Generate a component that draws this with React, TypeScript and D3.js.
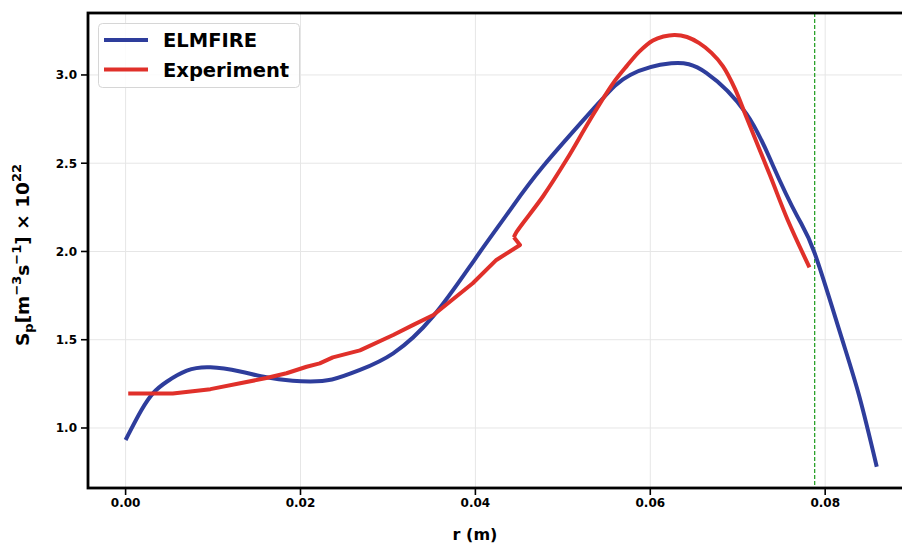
import React from "react";
import * as d3 from "d3";

const elmR = [0, 0.0018, 0.0032, 0.0047, 0.007, 0.0097, 0.0131, 0.0161, 0.0191, 0.0211, 0.0236, 0.0268, 0.0306, 0.0352, 0.04, 0.0439, 0.0477, 0.0539, 0.0577, 0.0624, 0.0664, 0.071, 0.074, 0.0768, 0.0788, 0.0817, 0.0839, 0.0859];
const elmV = [0.932, 1.10, 1.20, 1.262, 1.325, 1.344, 1.32, 1.287, 1.268, 1.264, 1.275, 1.329, 1.423, 1.635, 1.96, 2.23, 2.48, 2.83, 3.0, 3.066, 3.012, 2.78, 2.49, 2.2, 1.99, 1.54, 1.18, 0.78];

const expR = [0.0003, 0.0054, 0.0097, 0.0131, 0.0161, 0.0184, 0.0207, 0.0222, 0.0237, 0.0268, 0.0306, 0.0329, 0.0352, 0.0397, 0.0424, 0.0451, 0.0444, 0.0447, 0.0477, 0.0504, 0.0531, 0.0557, 0.0573, 0.0588, 0.0603, 0.0615, 0.0628, 0.0642, 0.0656, 0.067, 0.0683, 0.0697, 0.071, 0.0737, 0.0757, 0.0782];
const expV = [1.196, 1.196, 1.22, 1.253, 1.283, 1.31, 1.347, 1.366, 1.40, 1.44, 1.527, 1.584, 1.64, 1.82, 1.952, 2.037, 2.08, 2.11, 2.31, 2.518, 2.745, 2.95, 3.05, 3.135, 3.195, 3.218, 3.227, 3.215, 3.18, 3.125, 3.05, 2.92, 2.76, 2.43, 2.18, 1.91];
const expKinkIndex = 16;

const xTicks = [0, 0.02, 0.04, 0.06, 0.08];
const yTicks = [1.0, 1.5, 2.0, 2.5, 3.0];
const vline = 0.0788;

const W = 902;
const H = 544;
const left = 88, right = 917, top = 13, bottom = 488;
const FONT = "'DejaVu Sans', sans-serif";

export default function App() {
  const x = d3.scaleLinear().domain([-0.0043, 0.0905]).range([left, right]);
  const y = d3.scaleLinear().domain([0.66, 3.351]).range([bottom, top]);

  const elm = elmR.map((r, i) => [r, elmV[i]] as [number, number]);
  const exp = expR.map((r, i) => [r, expV[i]] as [number, number]);

  const blue = d3.line<[number, number]>().x((d) => x(d[0])).y((d) => y(d[1])).curve(d3.curveNatural)(elm) || "";
  const redA = d3.line<[number, number]>().x((d) => x(d[0])).y((d) => y(d[1])).curve(d3.curveLinear)(exp.slice(0, expKinkIndex + 1)) || "";
  const redB = d3.line<[number, number]>().x((d) => x(d[0])).y((d) => y(d[1])).curve(d3.curveCatmullRom.alpha(0.5))(exp.slice(expKinkIndex)) || "";

  const blueC = "#2E3D9C";
  const redC = "#E0302A";

  return (
    <div style={{ position: "absolute", left: 0, top: 0, width: W, height: H, overflow: "hidden" }}>
      <svg width={W} height={H} style={{ display: "block" }} fontFamily={FONT}>
        <rect x={0} y={0} width={W} height={H} fill="#fff" />
        <defs>
          <clipPath id="plot">
            <rect x={left} y={top} width={right - left} height={bottom - top} />
          </clipPath>
        </defs>
        {xTicks.map((t) => (
          <line key={"gx" + t} x1={x(t)} x2={x(t)} y1={top} y2={bottom} stroke="#e6e6e6" strokeWidth={1} />
        ))}
        {yTicks.map((t) => (
          <line key={"gy" + t} x1={left} x2={right} y1={y(t)} y2={y(t)} stroke="#e6e6e6" strokeWidth={1} />
        ))}
        <g clipPath="url(#plot)">
          <line x1={x(vline)} x2={x(vline)} y1={top} y2={bottom} stroke="#1a9a1a" strokeWidth={1.2} strokeDasharray="4,2" />
          <path d={blue} fill="none" stroke={blueC} strokeWidth={4} strokeLinejoin="round" />
          <path d={redA} fill="none" stroke={redC} strokeWidth={4} strokeLinejoin="round" strokeLinecap="butt" />
          <path d={redB} fill="none" stroke={redC} strokeWidth={4} strokeLinejoin="round" strokeLinecap="butt" />
        </g>
        <rect x={left} y={top} width={right - left} height={bottom - top} fill="none" stroke="#000" strokeWidth={2.8} />
        {xTicks.map((t) => (
          <g key={"tx" + t}>
            <line x1={x(t)} x2={x(t)} y1={bottom} y2={bottom + 7} stroke="#000" strokeWidth={1.6} />
            <text x={x(t)} y={507} textAnchor="middle" fontSize={12} fontWeight="bold" fill="#000">
              {t.toFixed(2)}
            </text>
          </g>
        ))}
        {yTicks.map((t) => (
          <g key={"ty" + t}>
            <line x1={left - 7} x2={left} y1={y(t)} y2={y(t)} stroke="#000" strokeWidth={1.6} />
            <text x={77} y={y(t) + 4.3} textAnchor="end" fontSize={12} fontWeight="bold" fill="#000">
              {t.toFixed(1)}
            </text>
          </g>
        ))}
        <text x={475} y={540} textAnchor="middle" fontSize={16} fontWeight="bold" fill="#000">
          r (m)
        </text>
        <text transform={`translate(29, ${255}) rotate(-90)`} textAnchor="middle" fontSize={18.5} fontWeight="bold" fill="#000">
          <tspan>S</tspan>
          <tspan fontSize={13} dy={4}>p</tspan>
          <tspan dy={-4}>[m</tspan>
          <tspan fontSize={13} dy={-8}>−3</tspan>
          <tspan dy={8}>s</tspan>
          <tspan fontSize={13} dy={-8}>−1</tspan>
          <tspan dy={8}>] × 10</tspan>
          <tspan fontSize={13} dy={-8}>22</tspan>
        </text>
        <g>
          <rect x={98.5} y={23.5} width={201} height={64} rx={4} fill="#fff" fillOpacity={0.85} stroke="#d6d6d6" strokeWidth={1} />
          <line x1={104} x2={148} y1={40} y2={40} stroke={blueC} strokeWidth={4} />
          <text x={163} y={47} fontSize={19.5} fontWeight="bold" fill="#000">ELMFIRE</text>
          <line x1={104} x2={148} y1={69.5} y2={69.5} stroke={redC} strokeWidth={4} />
          <text x={163} y={77} fontSize={19.5} fontWeight="bold" fill="#000">Experiment</text>
        </g>
      </svg>
    </div>
  );
}
